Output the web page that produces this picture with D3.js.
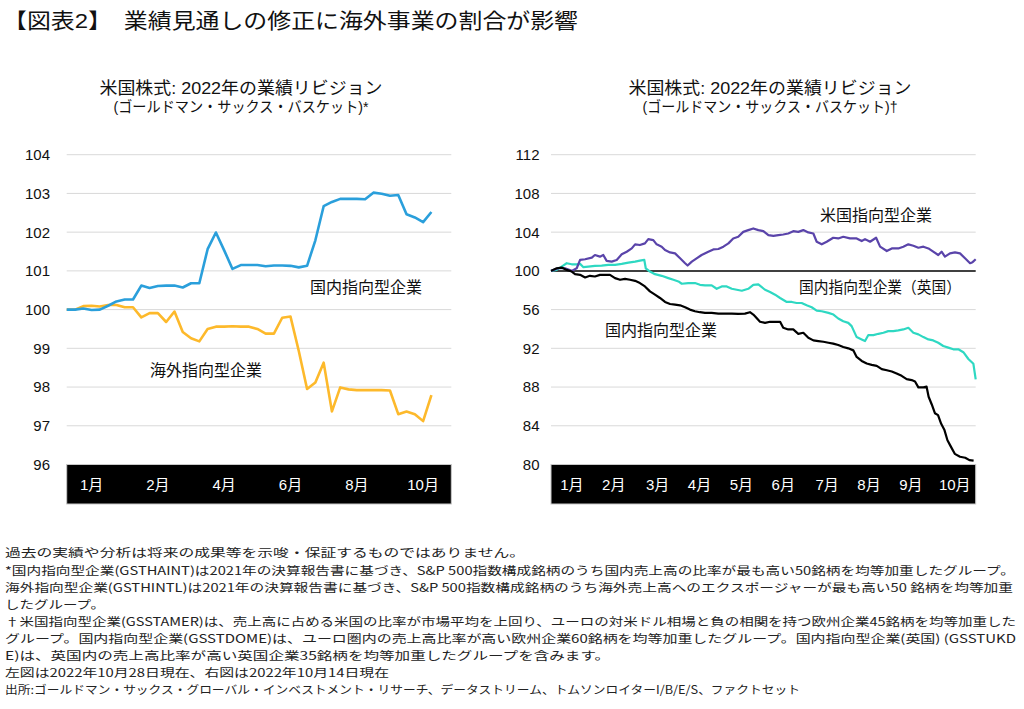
<!DOCTYPE html>
<html><head><meta charset="utf-8">
<script src="https://cdn.jsdelivr.net/npm/d3@7"></script>
<style>body{margin:0;background:#fff}svg{display:block}</style>
</head><body><svg id="c" width="1024" height="709"></svg>
<script>
// ---------- DATA ----------
// Left chart: weekly index values (category axis)
const domesticVals = [100.00,100.00,100.03,99.99,100.00,100.10,100.21,100.26,100.26,100.62,100.56,100.61,100.62,100.62,100.57,100.68,100.68,101.56,101.99,101.53,101.05,101.15,101.15,101.15,101.12,101.14,101.14,101.13,101.09,101.13,101.79,102.67,102.78,102.86,102.86,102.86,102.85,103.02,102.99,102.94,102.96,102.46,102.38,102.26,102.52];
const foreignVals = [100.00,100.00,100.09,100.10,100.08,100.12,100.12,100.06,100.06,99.80,99.91,99.91,99.68,99.95,99.42,99.26,99.18,99.50,99.56,99.56,99.57,99.56,99.56,99.50,99.38,99.38,99.79,99.82,98.93,97.95,98.12,98.63,97.37,97.99,97.94,97.92,97.92,97.92,97.92,97.91,97.30,97.37,97.30,97.12,97.79];
const leftTickValues = [96,97,98,99,100,101,102,103,104];
const leftMonthLabels = ["1月","2月","4月","6月","8月","10月"];
const leftMonthPos = [3,11,19,27,35,43];

// Right chart: [trading-day index, value]
const usOriented = [[0,100.0],[3.5,100.27],[6.7,100.27],[9.9,100.0],[12.3,100.27],[13.9,101.13],[16.3,101.2],[19.5,101.37],[21,101.64],[23.4,101.47],[25,101.64],[26.6,101.03],[29,100.96],[31.4,101.13],[33.8,101.71],[36.2,101.98],[38.6,102.32],[40.2,102.74],[42.5,102.67],[44.9,102.84],[46.5,103.28],[48.9,103.18],[50.5,102.74],[52.9,102.5],[54.5,102.15],[56.9,101.91],[59.3,101.81],[61.7,101.3],[64.1,100.79],[65.3,100.55],[67.3,100.96],[69.6,101.3],[72,101.64],[75.2,101.98],[77.6,102.22],[80,102.26],[82.4,102.5],[84.8,102.84],[87.1,103.35],[89.5,103.52],[91.9,104.03],[94.3,104.21],[96.7,104.38],[99.1,104.21],[101.5,104.1],[103.9,103.69],[106.3,103.62],[108.7,103.69],[111,103.76],[113.4,103.86],[115.8,104.1],[118.2,104.03],[120.6,104.21],[123,103.97],[125.4,103.86],[127,103.01],[129.4,102.74],[131.8,103.01],[134.9,103.42],[137.3,103.35],[139.7,103.52],[142.9,103.35],[146.1,103.35],[148.5,103.08],[150.1,103.28],[152.5,103.01],[155.4,103.42],[157.3,102.5],[160.5,102.05],[162.9,102.32],[166,102.32],[168.4,102.5],[170.8,102.74],[173.2,102.6],[175.6,102.39],[178,102.5],[180.4,102.32],[182.7,101.98],[185.1,101.64],[186.7,101.98],[188.3,101.47],[190.7,101.81],[193.1,101.91],[195.5,101.81],[197.9,101.3],[200.3,100.79],[201.5,100.9],[203,101.2]];
const ukDomestic = [[0,100],[2.7,100.1],[5.1,100.44],[7.5,100.79],[9.9,100.68],[12.3,100.68],[13.9,100.72],[15.5,100.38],[17.8,100.44],[21,100.51],[24.2,100.55],[27.4,100.62],[30.6,100.62],[33.8,100.72],[37,100.85],[40.2,100.96],[42.5,101.06],[44.6,101.13],[45.3,100.27],[47.3,99.93],[49.7,99.66],[52.9,99.49],[56.1,99.25],[58.5,99.08],[60.9,98.91],[62.5,98.67],[65.6,98.74],[68.8,98.74],[71.2,98.56],[73.6,98.5],[76.8,98.5],[79.2,98.15],[81.6,98.39],[84,98.39],[86.4,98.15],[88.8,98.05],[91.2,97.95],[94.3,98.15],[96.7,98.56],[99.1,98.6],[102.3,98.05],[104.7,97.81],[107.1,97.54],[109.5,97.2],[112.7,96.79],[115.1,96.79],[117.4,96.68],[119.8,96.68],[122.2,96.44],[124.6,96.24],[127,95.9],[129.4,95.83],[132.6,95.66],[135,95.49],[137.3,95.08],[139.7,94.8],[142.1,94.63],[143.7,94.29],[146.1,93.16],[148.5,92.92],[150.1,92.75],[151.7,93.37],[154.1,93.37],[156.5,93.5],[158.9,93.61],[161.2,93.78],[163.6,93.78],[166,93.85],[168.4,93.95],[170.8,94.12],[173.2,93.61],[175.6,93.44],[178,93.16],[180.4,92.92],[182.7,92.82],[185.1,92.58],[187.5,92.24],[189.9,92.07],[192.3,91.9],[194.7,91.9],[197.1,91.6],[199.5,90.9],[201.9,90.4],[203,88.8]];
const euDomestic = [[0,100],[2.7,100.27],[5.1,100.34],[7.5,100.1],[9.9,99.93],[11.5,99.66],[13.9,99.59],[16.3,99.32],[18.6,99.49],[21,99.42],[23.4,99.59],[25.8,99.59],[28.2,99.59],[30.6,99.25],[33,99.08],[35.4,99.18],[37.8,99.08],[40.2,98.97],[42.5,98.74],[44.9,98.39],[47.3,97.88],[49.7,97.54],[52.1,97.2],[54.5,96.79],[56.9,96.58],[59.3,96.51],[61.7,96.44],[64.1,96.24],[66.4,96.0],[68.8,95.83],[71.2,95.73],[73.6,95.66],[76.8,95.66],[80,95.59],[83.2,95.59],[86.4,95.59],[89.5,95.56],[92.7,95.59],[95.1,95.73],[96.7,95.49],[97.5,95.32],[99.9,94.74],[102.3,94.63],[104.7,94.74],[107.1,94.74],[109.5,94.74],[111,94.12],[113.4,93.95],[115.8,93.95],[118.2,93.5],[120.6,93.61],[123,93.09],[125.4,92.82],[127.8,92.75],[130.2,92.68],[132.6,92.58],[134.9,92.48],[137.3,92.34],[139.7,92.14],[142.1,92.0],[144.5,91.79],[146.1,91.11],[148.5,90.7],[150.9,90.43],[153.3,90.29],[155.7,90.19],[158.1,89.85],[160.5,89.74],[162.9,89.61],[165.2,89.4],[167.6,89.16],[170,88.82],[172.4,88.72],[174,88.58],[175.6,87.97],[178,87.97],[179.5,88.05],[180.5,87.0],[182,86.2],[183.5,85.3],[185,85.1],[186.5,84.2],[188,83.6],[189.5,82.5],[191,81.9],[193,81.1],[195.5,80.8],[198,80.7],[200,80.45],[202,80.4]];
const rightTickValues = [80,84,88,92,96,100,104,108,112];
const rightTickLabels = ["80","84","88","92","56","100","104","108","112"];
const rightMonthLabels = ["1月","2月","3月","4月","5月","6月","7月","8月","9月","10月"];
const rightMonthPos = [10,30,51,71,91,111,132,152,172,193];

const mainTitle = "【図表2】　業績見通しの修正に海外事業の割合が影響";
const chartTitle = "米国株式: 2022年の業績リビジョン";
const leftSub = "(ゴールドマン・サックス・バスケット)*";
const rightSub = "(ゴールドマン・サックス・バスケット)†";
const footnotes = [
 ["過去の実績や分析は将来の成果等を示唆・保証するものではありません。", 520],
 ["*国内指向型企業(GSTHAINT)は2021年の決算報告書に基づき、S&P 500指数構成銘柄のうち国内売上高の比率が最も高い50銘柄を均等加重したグループ。", 1010],
 ["海外指向型企業(GSTHINTL)は2021年の決算報告書に基づき、S&P 500指数構成銘柄のうち海外売上高へのエクスポージャーが最も高い50 銘柄を均等加重", 1008],
 ["したグループ。", 100],
 ["†米国指向型企業(GSSTAMER)は、売上高に占める米国の比率が市場平均を上回り、ユーロの対米ドル相場と負の相関を持つ欧州企業45銘柄を均等加重した", 1011],
 ["グループ。国内指向型企業(GSSTDOME)は、ユーロ圏内の売上高比率が高い欧州企業60銘柄を均等加重したグループ。国内指向型企業(英国) (GSSTUKD", 1011],
 ["E)は、英国内の売上高比率が高い英国企業35銘柄を均等加重したグループを含みます。", 605],
 ["左図は2022年10月28日現在、右図は2022年10月14日現在", 384],
 ["出所:ゴールドマン・サックス・グローバル・インベストメント・リサーチ、データストリーム、トムソンロイターI/B/E/S、ファクトセット", 795]
];

// ---------- DRAW ----------
const JP = "'Noto Sans CJK JP','Noto Sans',sans-serif";
const MIX = "'Liberation Sans','Noto Sans CJK JP',sans-serif";
const svg = d3.select("#c");
svg.append("rect").attr("width",1024).attr("height",709).attr("fill","#fff");

svg.append("text").attr("x",3).attr("y",28).attr("font-family",MIX).attr("font-size",21)
  .attr("textLength",575).attr("lengthAdjust","spacingAndGlyphs").attr("fill","#111").text(mainTitle);

function titles(cx, sub){
  svg.append("text").attr("x",cx).attr("y",94).attr("text-anchor","middle").attr("font-family",MIX)
    .attr("font-size",17).attr("textLength",283).attr("lengthAdjust","spacingAndGlyphs").attr("fill","#111").text(chartTitle);
  svg.append("text").attr("x",cx).attr("y",112).attr("text-anchor","middle").attr("font-family",MIX)
    .attr("font-size",15).attr("textLength",255).attr("lengthAdjust","spacingAndGlyphs").attr("fill","#111").text(sub);
}
titles(241, leftSub);
titles(770, rightSub);

function panel(opt){
  const g = svg.append("g");
  const y = d3.scaleLinear().domain(opt.yDomain).range([464.5,154.7]);
  const x = d3.scaleLinear().domain(opt.xDomain).range([opt.x0,opt.x1]);
  g.selectAll("line.grid").data(opt.ticks.filter(v=>v!==opt.yDomain[0] && v!==opt.refLine)).enter().append("line")
    .attr("x1",opt.x0).attr("x2",opt.x1).attr("y1",d=>y(d)).attr("y2",d=>y(d))
    .attr("stroke","#d9d9d9").attr("stroke-width",1);
  if(opt.refLine!==undefined){
    g.append("line").attr("x1",opt.x0).attr("x2",opt.x1).attr("y1",y(opt.refLine)).attr("y2",y(opt.refLine))
      .attr("stroke","#000").attr("stroke-width",1.5);
  }
  g.selectAll("text.tick").data(opt.ticks).enter().append("text")
    .attr("x",opt.labelX).attr("y",d=>y(d)).attr("dy","0.36em").attr("text-anchor","end")
    .attr("font-family",MIX).attr("font-size",15).attr("fill","#111")
    .text((d,i)=>opt.tickLabels[i]);
  g.append("rect").attr("x",opt.x0).attr("y",464.5).attr("width",opt.x1-opt.x0).attr("height",39.5)
    .attr("fill","#000").attr("stroke","#c8c8c8").attr("stroke-width",1);
  g.selectAll("text.month").data(opt.monthPos).enter().append("text")
    .attr("x",d=>x(d)).attr("y",485).attr("dy","0.36em").attr("text-anchor","middle")
    .attr("font-family",MIX).attr("font-size",15).attr("fill","#fff")
    .text((d,i)=>opt.monthLabels[i]);
  return {g,x,y};
}

// Left panel
const L = panel({yDomain:[96,104], xDomain:[0,46.4], x0:66.7, x1:451.3, ticks:leftTickValues,
  tickLabels:leftTickValues.map(String), labelX:50, monthPos:leftMonthPos, monthLabels:leftMonthLabels});
const lineL = d3.line().x((d,i)=>L.x(i)).y(d=>L.y(d)).curve(d3.curveLinear);
L.g.append("path").attr("d",lineL(foreignVals)).attr("fill","none").attr("stroke","#FDB92B").attr("stroke-width",2.6).attr("stroke-linejoin","round");
L.g.append("path").attr("d",lineL(domesticVals)).attr("fill","none").attr("stroke","#2A9FDB").attr("stroke-width",2.6).attr("stroke-linejoin","round");

// Right panel
const R = panel({yDomain:[80,112], xDomain:[0,203], x0:551, x1:975.7, ticks:rightTickValues,
  tickLabels:rightTickLabels, labelX:539.5, monthPos:rightMonthPos, monthLabels:rightMonthLabels, refLine:100});
const lineR = d3.line().x(d=>R.x(d[0])).y(d=>R.y(d[1]));
R.g.append("path").attr("d",lineR(ukDomestic)).attr("fill","none").attr("stroke","#2ED8C2").attr("stroke-width",2.2).attr("stroke-linejoin","round");
R.g.append("path").attr("d",lineR(usOriented)).attr("fill","none").attr("stroke","#5A44AA").attr("stroke-width",2.2).attr("stroke-linejoin","round");
R.g.append("path").attr("d",lineR(euDomestic)).attr("fill","none").attr("stroke","#000").attr("stroke-width",2.2).attr("stroke-linejoin","round");

// series labels
function lab(x,y,t,w){
  const s = svg.append("text").attr("x",x).attr("y",y).attr("dy","0.36em").attr("text-anchor","middle")
    .attr("font-family",JP).attr("font-size",16).attr("fill","#111").text(t);
  if(w) s.attr("textLength",w).attr("lengthAdjust","spacingAndGlyphs");
}
lab(366,287,"国内指向型企業");
lab(206,370,"海外指向型企業");
lab(876,215,"米国指向型企業");
lab(880,287,"国内指向型企業（英国）",162);
lab(661,330,"国内指向型企業");

// footnotes
const fy = [557,575,592,609,626,643,660,677,694];
footnotes.forEach((f,i)=>{
  svg.append("text").attr("x",5).attr("y",fy[i]).attr("font-family",JP).attr("font-size",11.5)
    .attr("fill","#222").attr("textLength",f[1]).attr("lengthAdjust","spacingAndGlyphs").text(f[0]);
});
</script></body></html>
